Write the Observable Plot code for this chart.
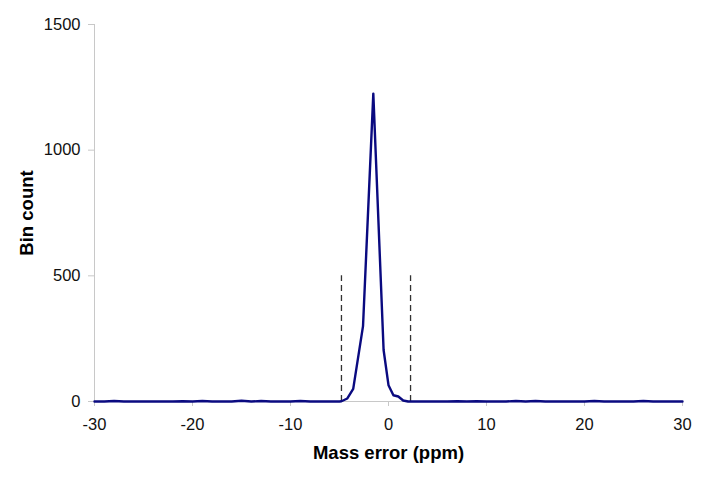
<!DOCTYPE html>
<html>
<head>
<meta charset="utf-8">
<script src="https://cdn.jsdelivr.net/npm/d3@7"></script>
<script src="https://cdn.jsdelivr.net/npm/@observablehq/plot@0.6"></script>
<style>
  html, body { margin: 0; padding: 0; background: #fff; }
</style>
</head>
<body>
<div id="chart"></div>
<script>
// Mass error bin centres (ppm) and counts
const massError = [-30,-29,-28,-27,-26,-25,-24,-23,-22,-21,-20,-19,-18,-17,-16,-15,-14,-13,-12,-11,-10,-9,-8,-7,-6,-5,
  -4.8,-4.2,-3.6,-2.6,-1.55,-0.5,0,0.5,1,1.5,2,
  3,4,5,6,7,8,9,10,11,12,13,14,15,16,17,18,19,20,21,22,23,24,25,26,27,28,29,30];
const binCount = [0,0,2,0,0,0,0,0,0,1,0,2,0,0,0,3,0,2,0,0,0,2,0,0,0,0,
  1,12,50,300,1225,205,65,25,20,4,0,
  0,0,0,0,1,0,1,0,0,0,2,0,2,0,0,0,0,0,2,0,0,0,0,2,0,0,0,0];
// Window limits (dashed lines)
const windowLimits = [-4.8, 2.25];
const windowTop = 500;
const xTicks = [-30,-20,-10,0,10,20,30];
const yTicks = [0,500,1000,1500];

const data = massError.map((x, i) => ({x, y: binCount[i]}));

const chart = Plot.plot({
  width: 707,
  height: 481,
  marginLeft: 94,
  marginRight: 25,
  marginTop: 24,
  marginBottom: 80,
  style: {fontFamily: "'Liberation Sans', Arial, sans-serif", fontSize: "16px", color: "#000", background: "#fff"},
  x: {domain: [-30, 30]},
  y: {domain: [0, 1500]},
  marks: [
    Plot.ruleX([-30], {stroke: "#c8c8c8", strokeWidth: 1}),
    Plot.axisY({ticks: yTicks, tickSize: 6, tickPadding: 8, stroke: "#c8c8c8", fill: "#111", label: null, fontSize: 16.5, tickFormat: d => String(d)}),
    Plot.axisX({ticks: xTicks, tickSize: 5, tickPadding: 12, stroke: "#c8c8c8", fill: "#111", label: null, fontSize: 16.5, tickFormat: d => String(d).replace("−", "-")}),
    Plot.ruleY([0], {stroke: "#c8c8c8"}),
    Plot.ruleX(windowLimits, {y1: 0, y2: windowTop, stroke: "#333", strokeWidth: 1.3, strokeDasharray: "6,4"}),
    Plot.line(data, {x: "x", y: "y", stroke: "#0a0a80", strokeWidth: 2.4, curve: "linear"}),
    Plot.text(["Bin count"], {frameAnchor: "left", textAnchor: "middle", lineAnchor: "middle", rotate: -90, dx: -67, fontWeight: "bold", fontSize: 18.5}),
    Plot.text(["Mass error (ppm)"], {frameAnchor: "bottom", textAnchor: "middle", lineAnchor: "middle", dy: 52, fontWeight: "bold", fontSize: 18.5})
  ]
});
document.getElementById("chart").appendChild(chart);
</script>
</body>
</html>
